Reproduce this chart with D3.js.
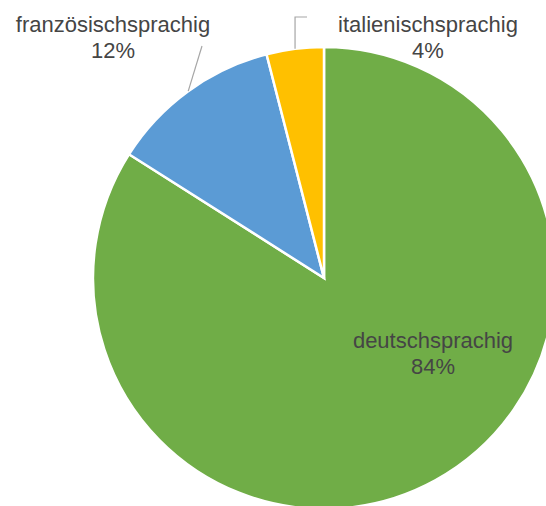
<!DOCTYPE html>
<html>
<head>
<meta charset="utf-8">
<script src="https://cdn.jsdelivr.net/npm/d3@7"></script>
<style>
body { margin: 0; background: #fff; overflow: hidden; }
</style>
</head>
<body>
<script>
// Sprachregionen
var categories = ["deutschsprachig", "französischsprachig", "italienischsprachig"];
var values = [84, 12, 4];
var colors = ["#70AD47", "#5B9BD5", "#FFC000"];

var width = 546;
var height = 506;
var cx = 324;
var cy = 278;
var radius = 231;

var svg = d3.select("body").append("svg")
    .attr("width", width)
    .attr("height", height);

var pie = d3.pie().sort(null).value(function(d) { return d; });
var arcs = pie(values);
var arc = d3.arc().innerRadius(0).outerRadius(radius);

var g = svg.append("g").attr("transform", "translate(" + cx + "," + cy + ")");

g.selectAll("path")
    .data(arcs)
    .enter().append("path")
    .attr("d", arc)
    .attr("fill", function(d, i) { return colors[i]; })
    .attr("stroke", "#fff")
    .attr("stroke-width", 2.5);

// label placement (excel-like), in pixels relative to the page
var labelPos = [[433, 348], [113, 32], [428, 32]];

function edgePoint(d) {
    var a = (d.startAngle + d.endAngle) / 2;
    return [cx + Math.sin(a) * radius, cy - Math.cos(a) * radius];
}

// leader lines
var lineColor = "#A6A6A6";
// französisch: straight line from pie edge
var p1 = edgePoint(arcs[1]);
svg.append("line")
    .attr("x1", p1[0]).attr("y1", p1[1])
    .attr("x2", 202).attr("y2", 46)
    .attr("stroke", lineColor).attr("stroke-width", 1.2);

// italienisch: elbow line
var q1 = edgePoint(arcs[2]);
svg.append("path")
    .attr("d", "M" + q1[0] + "," + q1[1] + "V17H307")
    .attr("fill", "none")
    .attr("stroke", lineColor).attr("stroke-width", 1.2);

var labels = svg.selectAll("g.label")
    .data(arcs)
    .enter().append("g")
    .attr("class", "label");

labels.append("text")
    .attr("x", function(d, i) { return labelPos[i][0]; })
    .attr("y", function(d, i) { return labelPos[i][1]; })
    .attr("text-anchor", "middle")
    .style("font-family", "'Liberation Sans', Arial, sans-serif")
    .style("font-size", "22px")
    .style("fill", "#454545")
    .text(function(d, i) { return categories[i]; });

labels.append("text")
    .attr("x", function(d, i) { return labelPos[i][0]; })
    .attr("y", function(d, i) { return labelPos[i][1] + 26; })
    .attr("text-anchor", "middle")
    .style("font-family", "'Liberation Sans', Arial, sans-serif")
    .style("font-size", "22px")
    .style("fill", "#454545")
    .text(function(d) { return d.data + "%"; });
</script>
</body>
</html>
